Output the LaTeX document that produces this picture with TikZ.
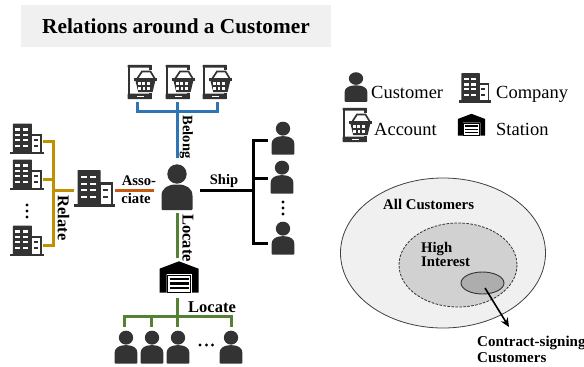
\documentclass[tikz,border=0pt]{standalone}
\usepackage{fontspec}
\setmainfont{Liberation Serif}
\usetikzlibrary{arrows.meta}
\definecolor{icon}{HTML}{333333}
\definecolor{cgold}{HTML}{BF9000}
\definecolor{corange}{HTML}{C55A11}
\definecolor{cblue}{HTML}{2E75B6}
\definecolor{cgreen}{HTML}{548235}
\tikzset{
  anchorbox/.style={inner sep=0pt,outer sep=0pt,minimum width=#1},
  conn/.style={line width=3pt,line cap=butt,line join=miter},
  lab/.style={font=\bfseries\fontsize{#1}{#1}\selectfont,inner sep=0pt,text depth=0pt},
  legend/.style={font=\fontsize{18.5}{18.5}\selectfont,inner sep=0pt,anchor=base west},
  person/.pic={
    \fill[icon] (0,-13) circle (9.7);
    \fill[icon,rounded corners=1pt] (-15.5,23) -- (-15.5,10) .. controls (-15.5,1) and (-9,-2.5) .. (0,-2.5)
      .. controls (9,-2.5) and (15.5,1) .. (15.5,10) -- (15.5,23) -- cycle;
  },
  building/.pic={
    \fill[icon,rounded corners=.6pt] (-17,-18.5) rectangle (6,17);
    \fill[icon] (5,-6.5) rectangle (18,17);
    \fill[white] (6,-4) rectangle (16,15.5);
    \fill[icon] (-20.5,15.3) rectangle (20.5,18.5);
    \foreach \yy in {-11.5,-4.5,1.5,8.5}{
      \fill[white] (-14,\yy-1.4) rectangle (-8,\yy+1.4);
      \fill[white] (-4.5,\yy-1.4) rectangle (1.5,\yy+1.4);
    }
    \foreach \yy in {1.5,8.5}{
      \fill[icon] (8,\yy-1.3) rectangle (13,\yy+1.3);
    }
  },
  account/.pic={
    \fill[icon,rounded corners=.8pt] (-14.5,-17.2) rectangle (9.5,-14.4);
    \fill[icon] (6.8,-17.2) rectangle (9.5,-12.5);
    \fill[icon] (-14.5,-17.2) rectangle (-11.7,17.2);
    \fill[icon] (6.8,10.5) rectangle (9.5,17.2);
    \fill[icon,rounded corners=.8pt] (-14.5,11.5) rectangle (9.5,17.2);
    \fill[white] (-5.5,13.6) rectangle (2,15.2);
    \draw[icon,line width=1.7pt] (-5,-3) -- (0,-10.5) -- (8.5,-10.5) -- (13,-3);
    \fill[icon] (-8.2,-4.2) rectangle (15,-1.4);
    \fill[icon] (-6.6,-1.6) -- (13.4,-1.6) -- (10.6,10) -- (-3.8,10) -- cycle;
    \foreach \xx in {-2.6,1.8,6.2}{
      \fill[white] (\xx-1.5,0.3) rectangle (\xx+1.5,3.4);
      \fill[white] (\xx-1.3,5) rectangle (\xx+1.3,8.2);
    }
  },
  station/.pic={
    \fill[black] (-19.5,14.5) -- (-19.5,-9.3) -- (0,-16.7) -- (19.5,-9.3) -- (19.5,14.5)
      -- (12.5,14.5) -- (12.5,-4) -- (-12.5,-4) -- (-12.5,14.5) -- cycle;
    \fill[white] (-12.5,-4) rectangle (12.5,14.5);
    \draw[black,line width=.9pt] (-11.5,-3) rectangle (11.5,14);
    \foreach \yy in {0.8,5.4,10}{
      \fill[black] (-9.5,\yy-1.1) rectangle (9.5,\yy+1.1);
    }
  }
}
\begin{document}
\begin{tikzpicture}[x=1pt,y=-1pt]
\useasboundingbox (0,0) rectangle (584,367);
\clip (0,0) rectangle (584,367);

% title
\fill[black!6] (21,5) rectangle (331,47);
\node[lab=21.3] (title) at (176,26) {Relations around a Customer};

% anchor boxes, sized so their borders carry the connector ends
\node[anchorbox=46pt,minimum height=55pt] (cust) at (177,185.5) {};
\node[anchorbox=30pt,minimum height=38pt] (acA) at (137,83) {};
\node[anchorbox=30pt,minimum height=38pt] (acB) at (177,83) {};
\node[anchorbox=30pt,minimum height=38pt] (acC) at (217,83) {};
\node[anchorbox=41pt,minimum height=37pt] (comp) at (94,190) {};
\node[anchorbox=32pt,minimum height=31pt] (bA) at (27,141) {};
\node[anchorbox=32pt,minimum height=31pt] (bB) at (27,179) {};
\node[anchorbox=32pt,minimum height=31pt] (bC) at (27,245) {};
\node[anchorbox=30pt,minimum height=33pt] (sA) at (283,140) {};
\node[anchorbox=30pt,minimum height=33pt] (sB) at (283,178) {};
\node[anchorbox=30pt,minimum height=33pt] (sC) at (283,243) {};
\node[anchorbox=40pt,minimum height=40pt] (stat) at (177,278) {};
\node[anchorbox=22pt,minimum height=40pt] (pA) at (124,347) {};
\node[anchorbox=22pt,minimum height=40pt] (pB) at (151.5,347) {};
\node[anchorbox=22pt,minimum height=40pt] (pC) at (177,347) {};
\node[anchorbox=22pt,minimum height=40pt] (pD) at (231,347) {};

% icons
\pic at (177,187) {person};
\pic at (94.5,188.5) {building};
\foreach \yy in {139,175,241}{\pic[scale=.83] at (27,\yy) {building};}
\foreach \xx in {142,180,217}{\pic at (\xx,82) {account};}
\pic[xscale=.74,yscale=.72] at (283,138) {person};
\pic[xscale=.74,yscale=.72] at (282,177) {person};
\pic[xscale=.74,yscale=.72] at (283,238) {person};
\foreach \xx in {126,152,178,231}{\pic[xscale=.74,yscale=.72] at (\xx,347) {person};}
\pic at (179,278) {station};
\foreach \yy in {205,211,217}{\fill[black] (27,\yy) circle (1.7);}
\foreach \yy in {202,208,214}{\fill[black] (283,\yy) circle (1.7);}
\foreach \xx in {200,206.5,212.5}{\fill[black] (\xx,345) circle (1.7);}

% junction coordinates
\coordinate (jB) at (177,111.7);
\coordinate (jG) at (53,190);
\coordinate (jK) at (253,190);
\coordinate (jL) at (177,316.7);

% connectors
\draw[conn,cblue] (acB.south) -- (cust.north);
\draw[conn,cblue] (acA.south) -- (acA.south |- jB) -- (acC.south |- jB) -- (acC.south);
\draw[conn,corange] (comp.east) -- (cust.west |- comp.east);
\draw[conn,cgold] (comp.west) -- (jG);
\draw[conn,cgold] (bA.east) -- (jG |- bA.east) -- (jG |- bC.east) -- (bC.east);
\draw[conn,cgold] (bB.east) -- (jG |- bB.east);
\draw[conn] (cust.east |- jK) -- (jK);
\draw[conn] (sA.west) -- (jK |- sA.west) -- (jK |- sC.west) -- (sC.west);
\draw[conn] (sB.west) -- (jK |- sB.west);
\draw[conn,cgreen] (cust.south) -- (stat.north);
\draw[conn,cgreen] (stat.south) -- (pC.north);
\draw[conn,cgreen] (pA.north) -- (pA.north |- jL) -- (pD.north |- jL) -- (pD.north);
\draw[conn,cgreen] (pB.north) -- (pB.north |- jL);

% relation labels
\node[lab=14.5,rotate=-90] (lbelong) at (188,137) {Belong};
\node[lab=16.5,rotate=-90] (lrelate) at (63.5,218) {Relate};
\node[lab=16.5,rotate=-90] (llocA) at (188,238) {Locate};
\node[lab=16.5] (llocB) at (212,307) {Locate};
\node[lab=14.7] (lasso) at (139,181) {Asso-};
\node[lab=14.7] (lciate) at (136,198.5) {ciate};
\node[lab=14.5] (lship) at (224,179) {Ship};

% legend
\pic[xscale=.74,yscale=.65] at (356,87) {person};
\node[legend] (tcust) at (371,98) {Customer};
\pic[scale=.8] at (475,88) {building};
\node[legend] (tcomp) at (496,98) {Company};
\pic at (357,125) {account};
\node[legend] (tacc) at (374,135) {Account};
\pic[scale=.7] at (471.5,125.5) {station};
\node[legend] (tstat) at (496,135) {Station};

% customer sets
\draw[black!75,fill=black!6,line width=.8pt] (443,253) ellipse (102.5 and 75);
\draw[black!80,fill=black!18,line width=.8pt,dash pattern=on 2.6pt off 1.4pt] (458,265) ellipse (59 and 42);
\draw[black!80,fill=black!32,line width=.9pt] (482.5,283) ellipse (21.5 and 11);
\coordinate (arrS) at (485,288);
\coordinate (arrE) at (509,327);
\draw[-{Stealth[length=9pt,width=8pt]},line width=1.6pt] (arrS) -- (arrE);
\node[lab=14.8,anchor=west] (tall) at (383,204) {All Customers};
\node[lab=14.7,anchor=west] (thigh) at (421,247) {High};
\node[lab=14.7,anchor=west] (tint) at (421,262) {Interest};
\node[lab=15,anchor=west] (tcon) at (477,341) {Contract-signing};
\node[lab=15,anchor=west] (tcc) at (477,358) {Customers};
\end{tikzpicture}
\end{document}
